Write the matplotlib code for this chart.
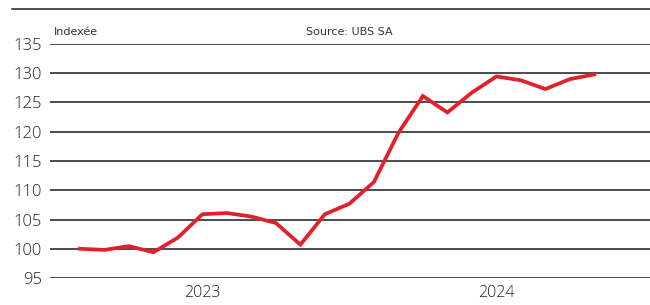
import matplotlib
matplotlib.use("Agg")
import matplotlib.pyplot as plt
from matplotlib.lines import Line2D

# index values (monthly points)
values = [100.0, 99.8, 100.45, 99.4, 101.9, 105.9, 106.1, 105.5, 104.4, 100.7,
          105.9, 107.7, 111.4, 119.8, 126.1, 123.3, 126.7, 129.45, 128.8, 127.3,
          129.0, 129.8]
year_pos = [5, 17]
year_labels = ["2023", "2024"]
yticks = [95, 100, 105, 110, 115, 120, 125, 130, 135]

plt.rcParams['font.family'] = ['Open Sans', 'DejaVu Sans']
plt.rcParams['font.weight'] = 'light'

fig = plt.figure(figsize=(6.5, 3.05), dpi=100)
ax = fig.add_axes([50 / 650, 27 / 305, 600 / 650, 234 / 305])

x = list(range(len(values)))
ax.plot(x, values, color='#e3202a', lw=2.7, solid_joinstyle='miter', zorder=3)

ax.set_ylim(95, 135)
ax.set_xlim(-1.22, 23.27)
ax.set_yticks(yticks)
ax.set_xticks(year_pos, year_labels)
ax.grid(axis='y', color='#2e2e2e', lw=1.2)
ax.set_axisbelow(True)
for s in ax.spines.values():
    s.set_visible(False)
ax.tick_params(axis='y', length=0, pad=6, labelsize=12, labelcolor='#222222')
ax.tick_params(axis='x', length=0, pad=5, labelsize=11.5, labelcolor='#222222')

# top rule and header texts
fig.add_artist(Line2D([12 / 650, 1.0], [1 - 9 / 305, 1 - 9 / 305], color='#333333', lw=1.2))
fig.text(54 / 650, 1 - 32 / 305, "Indexée", fontsize=8, color='#333333',
         family=['Liberation Sans Narrow', 'DejaVu Sans'], weight='normal', va='center')
fig.text(306 / 650, 1 - 32 / 305, "Source: UBS SA", fontsize=8, color='#333333',
         family=['Liberation Sans Narrow', 'DejaVu Sans'], weight='normal', va='center')

fig.savefig("out.png", dpi=100)
